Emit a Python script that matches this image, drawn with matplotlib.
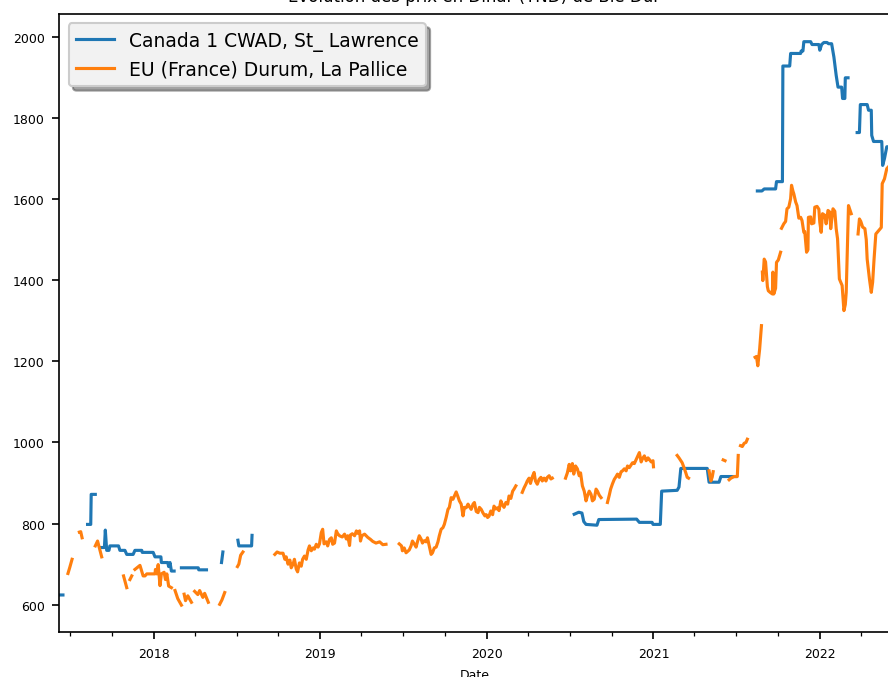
import numpy as np
import pandas as pd
import matplotlib
matplotlib.use("Agg")
import matplotlib.pyplot as plt
import matplotlib.dates as mdates

nan = np.nan

# Canada 1 CWAD, St_ Lawrence (TND)
canada_dates = [
    "2017-06-06", "2017-06-15", "2017-07-01",
    "2017-08-08", "2017-08-15", "2017-08-16", "2017-08-25", "2017-08-30",
    "2017-09-05", "2017-09-14", "2017-09-16", "2017-09-19", "2017-09-24", "2017-09-26",
    "2017-10-15", "2017-10-18", "2017-10-29", "2017-11-02", "2017-11-16", "2017-11-20",
    "2017-12-05", "2017-12-06", "2017-12-30", "2018-01-03", "2018-01-16", "2018-01-17",
    "2018-01-31", "2018-02-02", "2018-02-05", "2018-02-08", "2018-02-14", "2018-02-20",
    "2018-03-02", "2018-04-08", "2018-04-09", "2018-04-26", "2018-05-10",
    "2018-05-29", "2018-06-01", "2018-06-15",
    "2018-07-04", "2018-07-06", "2018-08-03", "2018-08-04", "2018-08-10",
    "2020-07-11", "2020-07-21", "2020-07-28", "2020-08-01", "2020-08-06", "2020-08-30",
    "2020-09-03", "2020-11-25", "2020-12-01", "2020-12-29", "2020-12-31", "2021-01-16",
    "2021-01-19", "2021-02-22", "2021-02-26", "2021-03-02", "2021-04-29", "2021-05-03",
    "2021-05-25", "2021-05-29", "2021-07-01", "2021-07-15",
    "2021-08-17", "2021-08-27", "2021-09-01", "2021-09-26", "2021-09-28", "2021-10-11",
    "2021-10-12", "2021-10-27", "2021-10-29", "2021-11-20", "2021-11-21", "2021-11-25",
    "2021-11-27", "2021-12-12", "2021-12-15", "2021-12-30", "2022-01-01", "2022-01-05",
    "2022-01-10", "2022-01-17", "2022-01-20", "2022-01-27", "2022-02-01", "2022-02-06",
    "2022-02-10", "2022-02-18", "2022-02-20", "2022-02-25", "2022-02-26", "2022-03-04",
    "2022-03-12",
    "2022-03-24", "2022-03-29", "2022-03-31", "2022-04-15", "2022-04-18", "2022-04-24",
    "2022-04-25", "2022-04-29", "2022-05-17", "2022-05-19", "2022-05-23", "2022-05-28",
    "2022-06-01",
]
canada_prices = [
    624, 624, nan,
    798, 798, 872, 872, nan,
    741, 741, 784, 734, 734, 745,
    745, 734, 734, 724, 724, 734,
    734, 729, 729, 718, 718, 704,
    704, 694, 704, 683, 683, nan,
    691, 691, 686, 686, nan,
    704, 730, nan,
    759, 745, 745, 771, nan,
    823, 828, 826, 805, 798, 796,
    810, 811, 803, 803, 798, 798,
    880, 882, 890, 936, 936, 902,
    902, 916, 916, nan,
    1620, 1620, 1625, 1625, 1643, 1643,
    1928, 1928, 1959, 1959, 1965, 1965,
    1988, 1988, 1981, 1981, 1967, 1981,
    1986, 1986, 1983, 1983, 1950, 1905,
    1876, 1876, 1848, 1848, 1899, 1899,
    nan,
    1764, 1764, 1833, 1833, 1819, 1819,
    1757, 1742, 1742, 1683, 1700, 1729,
    1729,
]

# EU (France) Durum, La Pallice (TND)
france_dates = [
    "2017-06-26", "2017-06-30", "2017-07-05", "2017-07-15",
    "2017-07-21", "2017-07-24", "2017-07-27", "2017-08-03",
    "2017-08-25", "2017-08-30", "2017-09-03", "2017-09-08", "2017-09-20",
    "2017-10-26", "2017-11-02", "2017-11-04",
    "2017-11-09", "2017-11-13", "2017-11-15",
    "2017-11-20", "2017-12-01", "2017-12-08", "2017-12-12", "2017-12-16", "2018-01-03",
    "2018-01-04", "2018-01-07", "2018-01-10", "2018-01-14", "2018-01-17", "2018-01-23",
    "2018-01-26", "2018-01-29", "2018-02-02", "2018-02-08", "2018-02-11",
    "2018-02-16", "2018-02-22", "2018-03-02", "2018-03-04",
    "2018-03-08", "2018-03-11", "2018-03-16", "2018-03-24", "2018-03-28",
    "2018-03-31", "2018-04-07", "2018-04-11", "2018-04-18", "2018-04-22", "2018-04-30",
    "2018-05-10",
    "2018-05-25", "2018-05-30", "2018-06-05", "2018-06-20",
    "2018-07-03", "2018-07-06", "2018-07-10", "2018-07-15", "2018-08-01",
    "2018-09-23", "2018-09-28", "2018-10-04", "2018-10-11", "2018-10-15", "2018-10-18",
    "2018-10-22", "2018-10-26", "2018-10-29", "2018-11-02", "2018-11-05", "2018-11-09",
    "2018-11-12", "2018-11-16", "2018-11-20", "2018-11-23", "2018-11-27", "2018-12-01",
    "2018-12-05", "2018-12-08", "2018-12-12", "2018-12-16", "2018-12-19", "2018-12-23",
    "2018-12-27", "2018-12-30", "2019-01-03", "2019-01-06", "2019-01-09", "2019-01-14",
    "2019-01-17", "2019-01-21", "2019-01-25", "2019-01-28", "2019-02-01", "2019-02-05",
    "2019-02-08", "2019-02-12", "2019-02-18", "2019-02-23", "2019-02-27", "2019-03-02",
    "2019-03-06", "2019-03-08", "2019-03-12", "2019-03-17", "2019-03-21", "2019-03-24",
    "2019-03-28", "2019-03-30", "2019-04-02", "2019-04-08", "2019-04-15", "2019-04-21",
    "2019-04-26", "2019-05-03", "2019-05-11", "2019-05-18", "2019-05-25", "2019-06-10",
    "2019-06-23", "2019-06-28", "2019-06-30", "2019-07-04", "2019-07-08", "2019-07-15",
    "2019-07-19", "2019-07-22", "2019-07-26", "2019-07-30", "2019-08-02", "2019-08-06",
    "2019-08-10", "2019-08-13", "2019-08-17", "2019-08-21", "2019-08-24", "2019-08-28",
    "2019-09-01", "2019-09-04", "2019-09-08", "2019-09-12", "2019-09-16", "2019-09-19",
    "2019-09-23", "2019-09-27", "2019-09-30", "2019-10-04", "2019-10-08", "2019-10-11",
    "2019-10-15", "2019-10-19", "2019-10-22", "2019-10-26", "2019-10-30", "2019-11-02",
    "2019-11-06", "2019-11-10", "2019-11-13", "2019-11-17", "2019-11-21", "2019-11-24",
    "2019-11-28", "2019-12-02", "2019-12-05", "2019-12-09", "2019-12-13", "2019-12-16",
    "2019-12-20", "2019-12-24", "2019-12-28", "2019-12-31", "2020-01-03", "2020-01-06",
    "2020-01-10", "2020-01-14", "2020-01-17", "2020-01-21", "2020-01-25", "2020-01-28",
    "2020-02-01", "2020-02-05", "2020-02-08", "2020-02-12", "2020-02-16", "2020-02-19",
    "2020-02-23", "2020-02-27", "2020-03-01", "2020-03-05", "2020-03-08",
    "2020-03-19", "2020-03-23", "2020-03-27", "2020-03-30", "2020-04-03", "2020-04-06",
    "2020-04-10", "2020-04-14", "2020-04-17", "2020-04-21", "2020-04-25", "2020-04-29",
    "2020-05-02", "2020-05-06", "2020-05-10", "2020-05-13", "2020-05-17", "2020-05-21",
    "2020-05-24", "2020-06-05",
    "2020-06-22", "2020-06-26", "2020-06-30", "2020-07-03", "2020-07-07", "2020-07-10",
    "2020-07-14", "2020-07-18", "2020-07-22", "2020-07-25", "2020-07-29", "2020-08-02",
    "2020-08-06", "2020-08-09", "2020-08-13", "2020-08-17", "2020-08-20", "2020-08-24",
    "2020-08-28", "2020-08-31", "2020-09-04", "2020-09-08", "2020-09-12",
    "2020-09-22", "2020-09-26", "2020-09-29", "2020-10-03", "2020-10-07", "2020-10-11",
    "2020-10-14", "2020-10-18", "2020-10-22", "2020-10-25", "2020-10-29", "2020-11-02",
    "2020-11-05", "2020-11-09", "2020-11-13", "2020-11-16", "2020-11-20", "2020-11-24",
    "2020-11-27", "2020-12-01", "2020-12-05", "2020-12-08", "2020-12-12", "2020-12-16",
    "2020-12-20", "2020-12-23", "2020-12-27", "2020-12-31", "2021-01-01", "2021-01-15",
    "2021-02-22", "2021-02-26", "2021-03-02", "2021-03-05", "2021-03-09", "2021-03-13",
    "2021-03-16", "2021-03-19", "2021-04-01",
    "2021-05-03", "2021-05-07", "2021-05-10", "2021-05-12", "2021-05-20",
    "2021-06-03", "2021-06-07", "2021-06-12",
    "2021-06-16", "2021-06-20", "2021-06-27", "2021-07-04", "2021-07-06", "2021-07-10",
    "2021-07-11", "2021-07-15", "2021-07-19", "2021-07-23", "2021-07-26", "2021-08-05",
    "2021-08-12", "2021-08-15", "2021-08-18", "2021-08-22", "2021-08-26", "2021-08-27",
    "2021-08-28", "2021-08-29", "2021-09-01", "2021-09-04", "2021-09-08", "2021-09-10",
    "2021-09-14", "2021-09-19", "2021-09-20", "2021-09-22", "2021-09-26", "2021-09-28",
    "2021-10-02", "2021-10-07", "2021-10-08",
    "2021-10-09", "2021-10-14", "2021-10-18", "2021-10-21", "2021-10-25", "2021-10-29",
    "2021-10-31", "2021-11-03", "2021-11-05", "2021-11-09", "2021-11-12", "2021-11-16",
    "2021-11-20", "2021-11-23", "2021-11-27", "2021-11-29", "2021-12-03", "2021-12-06",
    "2021-12-07", "2021-12-12", "2021-12-14", "2021-12-19", "2021-12-21", "2021-12-26",
    "2021-12-30", "2022-01-01", "2022-01-04", "2022-01-07", "2022-01-12", "2022-01-15",
    "2022-01-19", "2022-01-23", "2022-01-25", "2022-01-30", "2022-02-03", "2022-02-06",
    "2022-02-09", "2022-02-13", "2022-02-16", "2022-02-19", "2022-02-23", "2022-02-26",
    "2022-02-28", "2022-03-05", "2022-03-11", "2022-03-15",
    "2022-03-26", "2022-03-29", "2022-04-01", "2022-04-05", "2022-04-10", "2022-04-13",
    "2022-04-15", "2022-04-20", "2022-04-24", "2022-04-27", "2022-04-30", "2022-05-04",
    "2022-05-10", "2022-05-16", "2022-05-18", "2022-05-23", "2022-05-28", "2022-06-01",
]
france_prices = [
    677, 692, 712, nan,
    779, 780, 765, nan,
    745, 757, 740, 718, nan,
    671, 642, nan,
    662, 671, nan,
    687, 697, 671, 671, 676, 676,
    687, 676, 699, 647, 676, 680,
    662, 676, 646, 642, nan,
    635, 615, 599, nan,
    626, 610, 622, 606, nan,
    633, 625, 635, 618, 628, 606,
    nan,
    601, 612, 630, nan,
    694, 700, 722, 730, nan,
    724, 730, 727, 727, 712, 718,
    700, 710, 691, 700, 712, 688,
    681, 703, 695, 712, 720, 712,
    735, 745, 733, 740, 737, 749,
    742, 750, 778, 786, 750, 755,
    745, 761, 765, 749, 752, 782,
    775, 770, 767, 774, 762, 770,
    746, 772, 775, 770, 782, 776,
    782, 757, 770, 774, 766, 761,
    756, 752, 755, 748, 749, nan,
    750, 745, 733, 740, 728, 735,
    745, 757, 750, 742, 755, 770,
    762, 752, 758, 755, 765, 745,
    724, 728, 740, 742, 755, 770,
    786, 790, 798, 815, 835, 840,
    864, 860, 868, 878, 866, 856,
    848, 819, 840, 839, 848, 842,
    835, 848, 852, 830, 827, 840,
    835, 826, 819, 822, 815, 818,
    831, 822, 843, 836, 839, 832,
    856, 845, 840, 852, 848, 868,
    862, 880, 885, 893, nan,
    877, 888, 897, 905, 912, 899,
    915, 926, 905, 897, 909, 914,
    905, 912, 905, 914, 918, 910,
    912, nan,
    912, 925, 946, 930, 948, 922,
    942, 935, 918, 925, 893, 880,
    856, 868, 880, 872, 856, 860,
    885, 880, 870, 864, nan,
    852, 870, 885, 898, 909, 916,
    922, 914, 928, 930, 935, 930,
    942, 938, 945, 950, 948, 958,
    965, 975, 952, 960, 967, 955,
    962, 958, 952, 955, 940, nan,
    968, 962, 955, 950, 938, 925,
    914, 912, nan,
    930, 905, 915, 928, nan,
    957, 955, nan,
    908, 912, 916, 916, 968, nan,
    992, 990, 998, 1000, 1008, nan,
    1210, 1212, 1189, 1230, 1288, nan,
    1420, 1399, 1452, 1445, 1384, 1374,
    1370, 1366, 1420, 1366, 1380, 1444,
    1450, 1469, nan,
    1528, 1539, 1545, 1576, 1580, 1601,
    1634, 1620, 1613, 1593, 1584, 1553,
    1555, 1547, 1518, 1520, 1469, 1475,
    1555, 1556, 1539, 1541, 1580, 1582,
    1575, 1543, 1518, 1564, 1560, 1539,
    1572, 1568, 1527, 1576, 1570, 1527,
    1502, 1403, 1395, 1387, 1325, 1340,
    1370, 1584, 1564, nan,
    1514, 1551, 1545, 1531, 1527, 1500,
    1452, 1403, 1370, 1395, 1450, 1514,
    1522, 1530, 1638, 1650, 1675, 1680,
]

series_labels = ["Canada 1 CWAD, St_ Lawrence", "EU (France) Durum, La Pallice"]
price_ticks = [600, 800, 1000, 1200, 1400, 1600, 1800, 2000]

fig = plt.figure(figsize=(5.92, 4.52), dpi=150)
ax = fig.add_axes([59.3 / 888, 1 - 633.3 / 678, (889.5 - 59.3) / 888, (633.3 - 14.7) / 678])

ax.plot(pd.to_datetime(canada_dates), canada_prices, color="#1f77b4", lw=1.5,
        label=series_labels[0])
ax.plot(pd.to_datetime(france_dates), france_prices, color="#ff7f0e", lw=1.5,
        label=series_labels[1])

ax.set_xlim(pd.Timestamp("2017-06-07"), pd.Timestamp("2022-06-03"))
ax.set_ylim(532, 2057)
ax.set_yticks(price_ticks)
ax.xaxis.set_major_locator(mdates.YearLocator())
ax.xaxis.set_major_formatter(mdates.DateFormatter("%Y"))
ax.xaxis.set_minor_locator(mdates.MonthLocator(bymonth=[1, 4, 7, 10]))
ax.tick_params(labelsize=6)

ax.set_title("Évolution des prix en Dinar (TND) de Blé Dur", fontsize=8)
ax.set_xlabel("Date", fontsize=6)
ax.legend(loc="upper left", fontsize=9, shadow=True, facecolor="#f2f2f2",
          framealpha=1.0, edgecolor="#cccccc")

fig.savefig("out.png", dpi=150)
